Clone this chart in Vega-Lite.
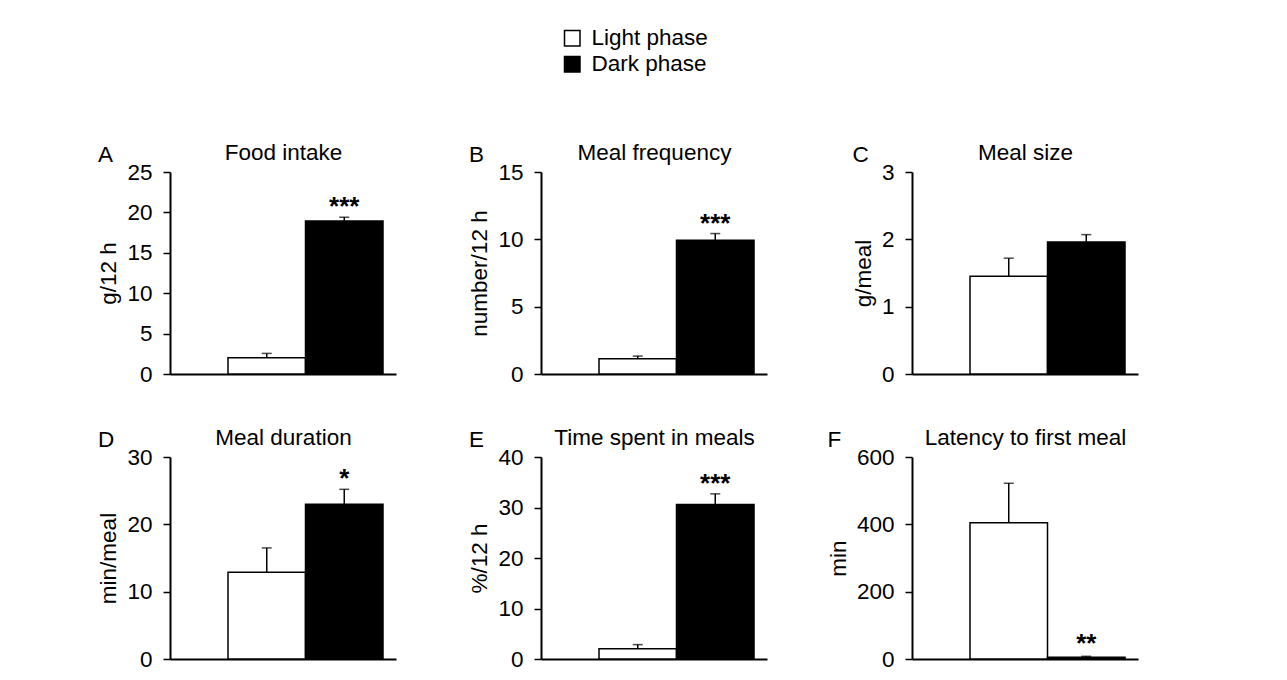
{
  "$schema": "https://vega.github.io/schema/vega-lite/v6.json",
  "padding": {"left": 97, "top": 27, "right": 5, "bottom": 5},
  "background": "white",
  "data": {"values": [
    {"panel": "A", "phase": "Light phase", "mean": 2.0, "upper": 2.55, "sig": ""},
    {"panel": "A", "phase": "Dark phase", "mean": 18.95, "upper": 19.4, "sig": "***"},
    {"panel": "B", "phase": "Light phase", "mean": 1.13, "upper": 1.33, "sig": ""},
    {"panel": "B", "phase": "Dark phase", "mean": 9.93, "upper": 10.43, "sig": "***"},
    {"panel": "C", "phase": "Light phase", "mean": 1.45, "upper": 1.72, "sig": ""},
    {"panel": "C", "phase": "Dark phase", "mean": 1.96, "upper": 2.07, "sig": ""},
    {"panel": "D", "phase": "Light phase", "mean": 12.9, "upper": 16.5, "sig": ""},
    {"panel": "D", "phase": "Dark phase", "mean": 23.0, "upper": 25.2, "sig": "*"},
    {"panel": "E", "phase": "Light phase", "mean": 2.05, "upper": 2.85, "sig": ""},
    {"panel": "E", "phase": "Dark phase", "mean": 30.6, "upper": 32.7, "sig": "***"},
    {"panel": "F", "phase": "Light phase", "mean": 405, "upper": 522, "sig": ""},
    {"panel": "F", "phase": "Dark phase", "mean": 5, "upper": 8, "sig": "**"}
  ]},
  "columns": 3,
  "bounds": "flush",
  "spacing": {"row": 83, "column": 145},
  "resolve": {"scale": {"fill": "shared"}, "legend": {"fill": "shared"}},
  "concat": [
    {
      "width": 226, "height": 202,
      "title": {"text": "A"},
      "transform": [{"filter": "datum.panel === 'A'"}],
      "layer": [
        {"mark": {"type": "bar", "stroke": "black", "strokeWidth": 1.5},
         "encoding": {
           "x": {"field": "phase", "type": "nominal", "sort": ["Light phase", "Dark phase"], "scale": {"domain": ["Light phase", "Dark phase"], "paddingInner": 0, "paddingOuter": 0.458, "align": 0.817}, "axis": {"orient": "bottom", "labels": false, "ticks": false, "title": null}},
           "y": {"field": "mean", "type": "quantitative", "title": "g/12 h", "scale": {"domain": [0, 25], "nice": false}, "axis": {"values": [0, 5, 10, 15, 20, 25], "format": "d"}},
           "fill": {"field": "phase", "type": "nominal", "title": null, "scale": {"domain": ["Light phase", "Dark phase"], "range": ["white", "black"]}}
         }},
        {"mark": {"type": "rule", "strokeWidth": 1.5, "color": "black"},
         "encoding": {
           "x": {"field": "phase", "type": "nominal", "sort": ["Light phase", "Dark phase"], "axis": {"orient": "top", "labels": false, "ticks": false, "domain": false, "title": "Food intake", "titlePadding": 8}},
           "y": {"field": "mean", "type": "quantitative", "title": "g/12 h", "scale": {"domain": [0, 25], "nice": false}},
           "y2": {"field": "upper"}
         }},
        {"mark": {"type": "tick", "thickness": 1.5, "size": 10, "color": "black"},
         "encoding": {
           "x": {"field": "phase", "type": "nominal", "sort": ["Light phase", "Dark phase"], "axis": null},
           "y": {"field": "upper", "type": "quantitative", "title": "g/12 h", "scale": {"domain": [0, 25], "nice": false}}
         }},
        {"mark": {"type": "text", "fontSize": 26, "fontWeight": "bold", "baseline": "alphabetic", "dy": -2, "font": "Liberation Sans", "color": "black"},
         "encoding": {
           "x": {"field": "phase", "type": "nominal", "sort": ["Light phase", "Dark phase"], "axis": null},
           "y": {"field": "upper", "type": "quantitative", "title": "g/12 h", "scale": {"domain": [0, 25], "nice": false}},
           "text": {"field": "sig"}
         }}
      ],
      "resolve": {"axis": {"x": "independent"}}
    },
    {
      "width": 226, "height": 202,
      "title": {"text": "B"},
      "transform": [{"filter": "datum.panel === 'B'"}],
      "layer": [
        {"mark": {"type": "bar", "stroke": "black", "strokeWidth": 1.5},
         "encoding": {
           "x": {"field": "phase", "type": "nominal", "sort": ["Light phase", "Dark phase"], "scale": {"domain": ["Light phase", "Dark phase"], "paddingInner": 0, "paddingOuter": 0.458, "align": 0.817}, "axis": {"orient": "bottom", "labels": false, "ticks": false, "title": null}},
           "y": {"field": "mean", "type": "quantitative", "title": "number/12 h", "scale": {"domain": [0, 15], "nice": false}, "axis": {"values": [0, 5, 10, 15], "format": "d"}},
           "fill": {"field": "phase", "type": "nominal", "title": null, "scale": {"domain": ["Light phase", "Dark phase"], "range": ["white", "black"]}}
         }},
        {"mark": {"type": "rule", "strokeWidth": 1.5, "color": "black"},
         "encoding": {
           "x": {"field": "phase", "type": "nominal", "sort": ["Light phase", "Dark phase"], "axis": {"orient": "top", "labels": false, "ticks": false, "domain": false, "title": "Meal frequency", "titlePadding": 8}},
           "y": {"field": "mean", "type": "quantitative", "title": "number/12 h", "scale": {"domain": [0, 15], "nice": false}},
           "y2": {"field": "upper"}
         }},
        {"mark": {"type": "tick", "thickness": 1.5, "size": 10, "color": "black"},
         "encoding": {
           "x": {"field": "phase", "type": "nominal", "sort": ["Light phase", "Dark phase"], "axis": null},
           "y": {"field": "upper", "type": "quantitative", "title": "number/12 h", "scale": {"domain": [0, 15], "nice": false}}
         }},
        {"mark": {"type": "text", "fontSize": 26, "fontWeight": "bold", "baseline": "alphabetic", "dy": -2, "font": "Liberation Sans", "color": "black"},
         "encoding": {
           "x": {"field": "phase", "type": "nominal", "sort": ["Light phase", "Dark phase"], "axis": null},
           "y": {"field": "upper", "type": "quantitative", "title": "number/12 h", "scale": {"domain": [0, 15], "nice": false}},
           "text": {"field": "sig"}
         }}
      ],
      "resolve": {"axis": {"x": "independent"}}
    },
    {
      "width": 226, "height": 202,
      "title": {"text": "C"},
      "transform": [{"filter": "datum.panel === 'C'"}],
      "layer": [
        {"mark": {"type": "bar", "stroke": "black", "strokeWidth": 1.5},
         "encoding": {
           "x": {"field": "phase", "type": "nominal", "sort": ["Light phase", "Dark phase"], "scale": {"domain": ["Light phase", "Dark phase"], "paddingInner": 0, "paddingOuter": 0.458, "align": 0.817}, "axis": {"orient": "bottom", "labels": false, "ticks": false, "title": null}},
           "y": {"field": "mean", "type": "quantitative", "title": "g/meal", "scale": {"domain": [0, 3], "nice": false}, "axis": {"values": [0, 1, 2, 3], "format": "d"}},
           "fill": {"field": "phase", "type": "nominal", "title": null, "scale": {"domain": ["Light phase", "Dark phase"], "range": ["white", "black"]}}
         }},
        {"mark": {"type": "rule", "strokeWidth": 1.5, "color": "black"},
         "encoding": {
           "x": {"field": "phase", "type": "nominal", "sort": ["Light phase", "Dark phase"], "axis": {"orient": "top", "labels": false, "ticks": false, "domain": false, "title": "Meal size", "titlePadding": 8}},
           "y": {"field": "mean", "type": "quantitative", "title": "g/meal", "scale": {"domain": [0, 3], "nice": false}},
           "y2": {"field": "upper"}
         }},
        {"mark": {"type": "tick", "thickness": 1.5, "size": 10, "color": "black"},
         "encoding": {
           "x": {"field": "phase", "type": "nominal", "sort": ["Light phase", "Dark phase"], "axis": null},
           "y": {"field": "upper", "type": "quantitative", "title": "g/meal", "scale": {"domain": [0, 3], "nice": false}}
         }},
        {"mark": {"type": "text", "fontSize": 26, "fontWeight": "bold", "baseline": "alphabetic", "dy": -2, "font": "Liberation Sans", "color": "black"},
         "encoding": {
           "x": {"field": "phase", "type": "nominal", "sort": ["Light phase", "Dark phase"], "axis": null},
           "y": {"field": "upper", "type": "quantitative", "title": "g/meal", "scale": {"domain": [0, 3], "nice": false}},
           "text": {"field": "sig"}
         }}
      ],
      "resolve": {"axis": {"x": "independent"}}
    },
    {
      "width": 226, "height": 202,
      "title": {"text": "D"},
      "transform": [{"filter": "datum.panel === 'D'"}],
      "layer": [
        {"mark": {"type": "bar", "stroke": "black", "strokeWidth": 1.5},
         "encoding": {
           "x": {"field": "phase", "type": "nominal", "sort": ["Light phase", "Dark phase"], "scale": {"domain": ["Light phase", "Dark phase"], "paddingInner": 0, "paddingOuter": 0.458, "align": 0.817}, "axis": {"orient": "bottom", "labels": false, "ticks": false, "title": null}},
           "y": {"field": "mean", "type": "quantitative", "title": "min/meal", "scale": {"domain": [0, 30], "nice": false}, "axis": {"values": [0, 10, 20, 30], "format": "d"}},
           "fill": {"field": "phase", "type": "nominal", "title": null, "scale": {"domain": ["Light phase", "Dark phase"], "range": ["white", "black"]}}
         }},
        {"mark": {"type": "rule", "strokeWidth": 1.5, "color": "black"},
         "encoding": {
           "x": {"field": "phase", "type": "nominal", "sort": ["Light phase", "Dark phase"], "axis": {"orient": "top", "labels": false, "ticks": false, "domain": false, "title": "Meal duration", "titlePadding": 8}},
           "y": {"field": "mean", "type": "quantitative", "title": "min/meal", "scale": {"domain": [0, 30], "nice": false}},
           "y2": {"field": "upper"}
         }},
        {"mark": {"type": "tick", "thickness": 1.5, "size": 10, "color": "black"},
         "encoding": {
           "x": {"field": "phase", "type": "nominal", "sort": ["Light phase", "Dark phase"], "axis": null},
           "y": {"field": "upper", "type": "quantitative", "title": "min/meal", "scale": {"domain": [0, 30], "nice": false}}
         }},
        {"mark": {"type": "text", "fontSize": 26, "fontWeight": "bold", "baseline": "alphabetic", "dy": -2, "font": "Liberation Sans", "color": "black"},
         "encoding": {
           "x": {"field": "phase", "type": "nominal", "sort": ["Light phase", "Dark phase"], "axis": null},
           "y": {"field": "upper", "type": "quantitative", "title": "min/meal", "scale": {"domain": [0, 30], "nice": false}},
           "text": {"field": "sig"}
         }}
      ],
      "resolve": {"axis": {"x": "independent"}}
    },
    {
      "width": 226, "height": 202,
      "title": {"text": "E"},
      "transform": [{"filter": "datum.panel === 'E'"}],
      "layer": [
        {"mark": {"type": "bar", "stroke": "black", "strokeWidth": 1.5},
         "encoding": {
           "x": {"field": "phase", "type": "nominal", "sort": ["Light phase", "Dark phase"], "scale": {"domain": ["Light phase", "Dark phase"], "paddingInner": 0, "paddingOuter": 0.458, "align": 0.817}, "axis": {"orient": "bottom", "labels": false, "ticks": false, "title": null}},
           "y": {"field": "mean", "type": "quantitative", "title": "%/12 h", "scale": {"domain": [0, 40], "nice": false}, "axis": {"values": [0, 10, 20, 30, 40], "format": "d"}},
           "fill": {"field": "phase", "type": "nominal", "title": null, "scale": {"domain": ["Light phase", "Dark phase"], "range": ["white", "black"]}}
         }},
        {"mark": {"type": "rule", "strokeWidth": 1.5, "color": "black"},
         "encoding": {
           "x": {"field": "phase", "type": "nominal", "sort": ["Light phase", "Dark phase"], "axis": {"orient": "top", "labels": false, "ticks": false, "domain": false, "title": "Time spent in meals", "titlePadding": 8}},
           "y": {"field": "mean", "type": "quantitative", "title": "%/12 h", "scale": {"domain": [0, 40], "nice": false}},
           "y2": {"field": "upper"}
         }},
        {"mark": {"type": "tick", "thickness": 1.5, "size": 10, "color": "black"},
         "encoding": {
           "x": {"field": "phase", "type": "nominal", "sort": ["Light phase", "Dark phase"], "axis": null},
           "y": {"field": "upper", "type": "quantitative", "title": "%/12 h", "scale": {"domain": [0, 40], "nice": false}}
         }},
        {"mark": {"type": "text", "fontSize": 26, "fontWeight": "bold", "baseline": "alphabetic", "dy": -2, "font": "Liberation Sans", "color": "black"},
         "encoding": {
           "x": {"field": "phase", "type": "nominal", "sort": ["Light phase", "Dark phase"], "axis": null},
           "y": {"field": "upper", "type": "quantitative", "title": "%/12 h", "scale": {"domain": [0, 40], "nice": false}},
           "text": {"field": "sig"}
         }}
      ],
      "resolve": {"axis": {"x": "independent"}}
    },
    {
      "width": 226, "height": 202,
      "title": {"text": "F"},
      "transform": [{"filter": "datum.panel === 'F'"}],
      "layer": [
        {"mark": {"type": "bar", "stroke": "black", "strokeWidth": 1.5},
         "encoding": {
           "x": {"field": "phase", "type": "nominal", "sort": ["Light phase", "Dark phase"], "scale": {"domain": ["Light phase", "Dark phase"], "paddingInner": 0, "paddingOuter": 0.458, "align": 0.817}, "axis": {"orient": "bottom", "labels": false, "ticks": false, "title": null}},
           "y": {"field": "mean", "type": "quantitative", "title": "min", "scale": {"domain": [0, 600], "nice": false}, "axis": {"values": [0, 200, 400, 600], "format": "d"}},
           "fill": {"field": "phase", "type": "nominal", "title": null, "scale": {"domain": ["Light phase", "Dark phase"], "range": ["white", "black"]}}
         }},
        {"mark": {"type": "rule", "strokeWidth": 1.5, "color": "black"},
         "encoding": {
           "x": {"field": "phase", "type": "nominal", "sort": ["Light phase", "Dark phase"], "axis": {"orient": "top", "labels": false, "ticks": false, "domain": false, "title": "Latency to first meal", "titlePadding": 8}},
           "y": {"field": "mean", "type": "quantitative", "title": "min", "scale": {"domain": [0, 600], "nice": false}},
           "y2": {"field": "upper"}
         }},
        {"mark": {"type": "tick", "thickness": 1.5, "size": 10, "color": "black"},
         "encoding": {
           "x": {"field": "phase", "type": "nominal", "sort": ["Light phase", "Dark phase"], "axis": null},
           "y": {"field": "upper", "type": "quantitative", "title": "min", "scale": {"domain": [0, 600], "nice": false}}
         }},
        {"mark": {"type": "text", "fontSize": 26, "fontWeight": "bold", "baseline": "alphabetic", "dy": -4, "font": "Liberation Sans", "color": "black"},
         "encoding": {
           "x": {"field": "phase", "type": "nominal", "sort": ["Light phase", "Dark phase"], "axis": null},
           "y": {"field": "upper", "type": "quantitative", "title": "min", "scale": {"domain": [0, 600], "nice": false}},
           "text": {"field": "sig"}
         }}
      ],
      "resolve": {"axis": {"x": "independent"}}
    }
  ],
  "config": {
    "font": "Liberation Sans",
    "view": {"stroke": null},
    "title": {"font": "Liberation Sans", "fontSize": 22.5, "fontWeight": "normal", "color": "black", "anchor": "start", "frame": "bounds", "offset": -25},
    "axis": {
      "grid": false,
      "domainColor": "black", "domainWidth": 2,
      "tickColor": "black", "tickWidth": 1.5, "tickSize": 7,
      "labelFont": "Liberation Sans", "labelFontSize": 22.5, "labelColor": "black", "labelPadding": 11,
      "titleFont": "Liberation Sans", "titleFontSize": 22.5, "titleFontWeight": "normal", "titleColor": "black", "titlePadding": 6
    },
    "legend": {
      "orient": "none", "legendX": 391, "legendY": -145, "padding": 0,
      "symbolType": "square", "symbolSize": 240, "symbolStrokeColor": "black", "symbolStrokeWidth": 1.5,
      "labelFont": "Liberation Sans", "labelFontSize": 22.5, "labelColor": "black", "labelOffset": 8, "rowPadding": 3
    }
  }
}
